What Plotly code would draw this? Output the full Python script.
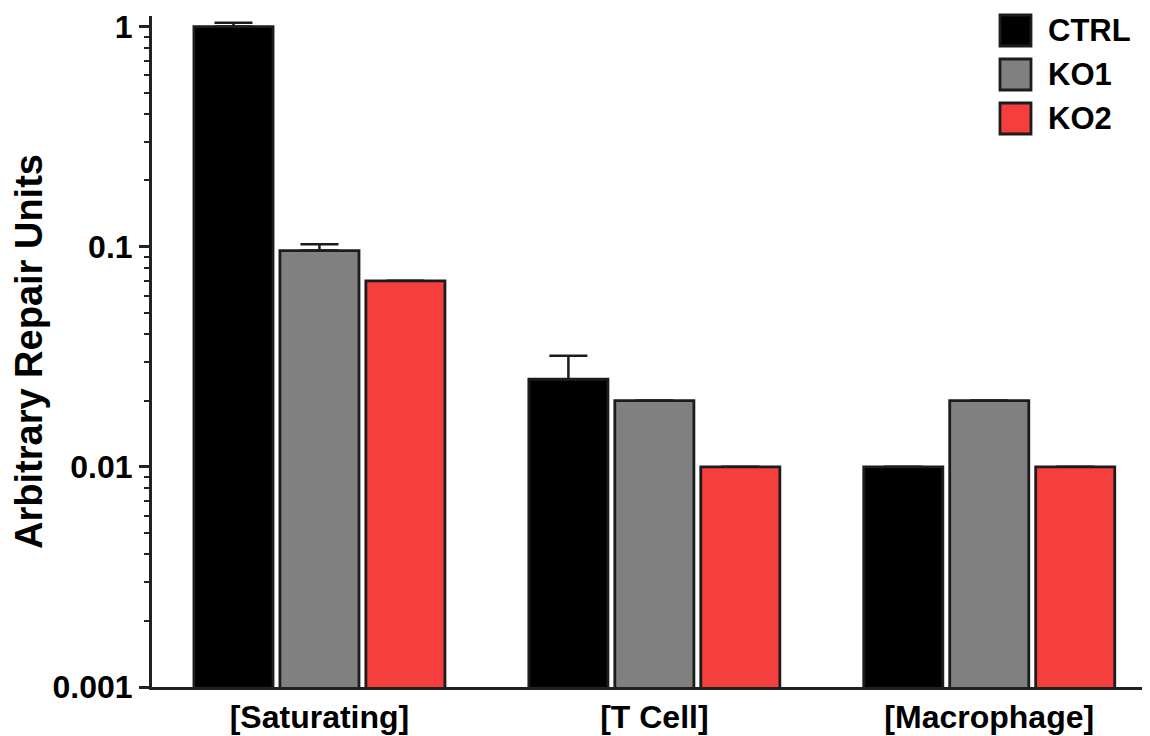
import plotly.graph_objects as go

categories = ["[Saturating]", "[T Cell]", "[Macrophage]"]
series_names = ["CTRL", "KO1", "KO2"]
ctrl_values = [1.0, 0.025, 0.01]
ko1_values = [0.096, 0.02, 0.02]
ko2_values = [0.07, 0.01, 0.01]
ctrl_err = [0.04, 0.007, 0.0]
ko1_err = [0.0065, 0.0, 0.0]
ko2_err = [0.0, 0.0, 0.0]
y_tick_vals = [0.001, 0.01, 0.1, 1]
y_tick_text = ["0.001", "0.01", "0.1", "1"]

colors = ["#000000", "#808080", "#F53F3F"]
edge = "#1c1c1c"
FONT = "Arial, Liberation Sans, sans-serif"

values = [ctrl_values, ko1_values, ko2_values]
errs = [ctrl_err, ko1_err, ko2_err]

fig = go.Figure()
for name, vals, err, col in zip(series_names, values, errs, colors):
    fig.add_trace(go.Bar(
        x=categories, y=vals, name=name, showlegend=False,
        marker=dict(color=col, line=dict(color=edge, width=2.8)),
        error_y=dict(type="data", array=err, arrayminus=[0] * len(err),
                     symmetric=False, color=edge, thickness=2.5, width=19),
    ))

# custom legend (large square swatches)
shapes = []
annotations = []
for i, (name, col) in enumerate(zip(series_names, colors)):
    top = 1 - 44 * i
    shapes.append(dict(
        type="rect", xref="paper", yref="paper",
        xsizemode="pixel", ysizemode="pixel", xanchor=1, yanchor=1,
        x0=-150, x1=-119, y0=top, y1=top - 31,
        fillcolor=col, line=dict(color=edge, width=2.8),
    ))
    annotations.append(dict(
        xref="paper", yref="paper", x=1, y=1, xshift=-104, yshift=top - 15.5,
        xanchor="left", yanchor="middle", text=name, showarrow=False,
        font=dict(family=FONT, size=31, color="#000", weight="bold"),
    ))

# page body has an 8px margin, so the figure is sized/offset to compensate
fig.update_layout(
    width=1142, height=728,
    margin=dict(l=144, r=0, t=8, b=49, autoexpand=False),
    paper_bgcolor="white", plot_bgcolor="white",
    barmode="group", bargap=0.23, bargroupgap=0.08,
    font=dict(family=FONT, size=31, color="#000", weight="bold"),
    shapes=shapes, annotations=annotations,
    xaxis=dict(
        range=[-0.5, 2.48], showline=True, linecolor="#222", linewidth=3,
        ticks="", showgrid=False, zeroline=False,
        tickfont=dict(family=FONT, size=32, color="#000", weight="bold"),
    ),
    yaxis=dict(
        type="log", range=[-3, 0.048], showline=True, linecolor="#222", linewidth=3,
        showgrid=False, zeroline=False,
        tickmode="array", tickvals=y_tick_vals, ticktext=y_tick_text,
        ticks="outside", ticklen=10, tickwidth=2.5, tickcolor="#222",
        tickfont=dict(family=FONT, size=32, color="#000", weight="bold"),
        minor=dict(ticks="outside", ticklen=5, tickwidth=2, tickcolor="#222", dtick="D1", showgrid=False),
        title=dict(text="Arbitrary Repair Units", standoff=10,
                   font=dict(family=FONT, size=38, color="#000", weight="bold")),
    ),
)

fig.write_html("out.html")
